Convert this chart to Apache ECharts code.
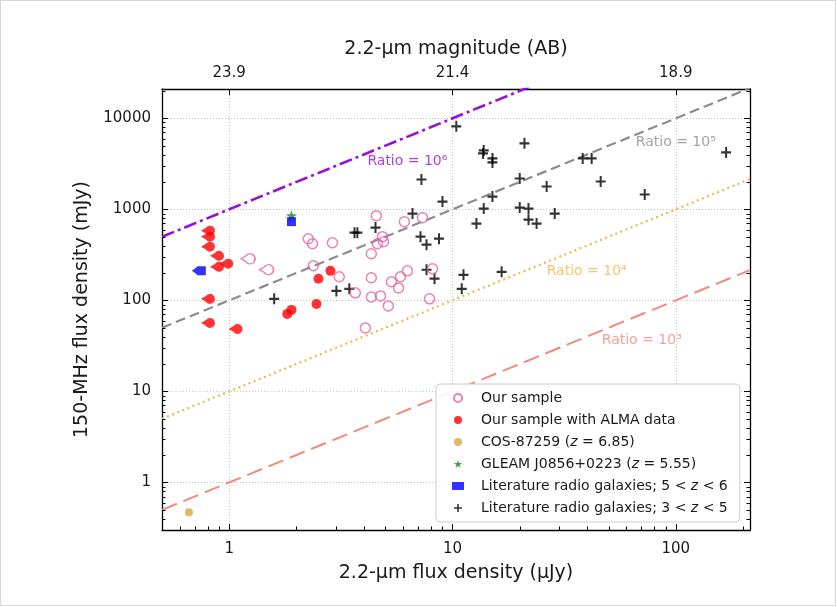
<!DOCTYPE html>
<html><head><meta charset="utf-8">
<script src="https://cdn.jsdelivr.net/npm/echarts@6/dist/echarts.min.js"></script>
<style>html,body{margin:0;padding:0;background:#fff}#c{width:837px;height:607px}</style>
</head><body><div id="c"></div>
<script>
// ---- data (x: 2.2-um flux density in uJy, y: 150-MHz flux density in mJy) ----
const ourSample = [[1.24,286],[1.50,217],[2.26,476],[2.36,419],[2.90,430],[2.38,240],[3.11,182],[4.56,853],[4.33,325],[4.61,419],[4.86,501],[4.91,441],[6.09,733],[7.34,811],[8.14,222],[4.33,177],[5.33,160],[5.85,182],[6.28,211],[5.73,137],[3.67,121],[4.33,109],[4.76,112],[5.16,86.9],[7.89,104],[4.07,49.8]];
const ourSampleLimit = [1,1,0,0,0,0,0,0,0,0,0,0,0,0,0,0,0,0,0,0,0,0,0,0,0,0];
const ourSampleAlma = [[0.82,583],[0.82,501],[0.82,389],[0.90,309],[0.99,253],[0.90,234],[0.82,104],[0.82,56.5],[1.09,48.5],[1.82,71.0],[1.90,78.6],[2.46,91.4],[2.51,173],[2.84,211]];
const ourSampleAlmaLimit = [1,1,1,1,1,1,1,1,1,0,0,0,0,0];
const cos87259 = [[0.66,0.47]];
const gleam = [[1.90,853]];
const litHighZ = [[0.75,211],[1.90,733]];
const litHighZLimit = [1,0];
const litLowZ = [[10.4,8166],[13.8,4437],[13.7,4115],[15.1,3622],[15.1,3274],[21.0,5310],[20.0,2181],[26.4,1782],[38.3,3622],[42.0,3622],[46.1,2022],[72.6,1455],[168,4220],[7.26,2128],[9.02,1217],[15.1,1381],[13.8,1019],[20.0,1045],[21.9,1019],[12.8,697],[21.9,771],[23.8,697],[28.7,898],[11.2,191],[16.6,206],[8.7,476],[6.62,898],[4.52,630],[3.75,554],[3.64,554],[7.19,501],[7.65,409],[7.65,217],[8.31,173],[11.0,134],[3.02,127],[3.45,134],[1.59,104]];

const seriesNames = ['Our sample','Our sample with ALMA data','COS-87259 (z = 6.85)','GLEAM J0856+0223 (z = 5.55)','Literature radio galaxies; 5 < z < 6','Literature radio galaxies; 3 < z < 5'];

// ratio lines S150/S2.2 and their labels
const ratios = [1e3, 1e4, 1e5, 1e6];
const ratioLabels = ['Ratio = 10³','Ratio = 10⁴','Ratio = 10⁵','Ratio = 10⁶'];
const ratioLabelAt = [[70.4,36.7],[39.9,206],[100,5445],[6.28,3360]];

// axes
const xRange = [0.5, 215];
const yRange = [0.3, 21000];
const xMajor = [1, 10, 100];
const xMinor = [0.5,0.6,0.7,0.8,0.9,2,3,4,5,6,7,8,9,20,30,40,50,60,70,80,90,200];
const yMajor = [1, 10, 100, 1000, 10000];
const yMinor = [0.3,0.4,0.5,0.6,0.7,0.8,0.9,2,3,4,5,6,7,8,9,20,30,40,50,60,70,80,90,200,300,400,500,600,700,800,900,2000,3000,4000,5000,6000,7000,8000,9000,20000];
const yTickLabels = ['1','10','100','1000','10000'];
const xTickLabels = ['1','10','100'];
const topTickLabels = ['23.9','21.4','18.9'];

// ---- styling ----
const FONT = 'DejaVu Sans';
const TXT = '#1a1a1a';
const TICK_FS = 15, TITLE_FS = 19, LEG_FS = 14;
const TICK_COLOR = '#000000';
const ratioStyles = [
  {color:'#f4897b', type:[16,7], width:2},
  {color:'#f7b44a', type:[2,3.5], width:2.2},
  {color:'#8c8c8c', type:[10,5], width:2.2},
  {color:'#9a0fd6', type:[13,4,3,4], width:2.6}
];
const plusPath = 'path://M4,0H6V4H10V6H6V10H4V6H0V4H4Z';
const limitPath = 'path://M0,5L4.9,2.13A5,5 0 1 1 4.9,7.87Z';
const limitSquarePath = 'path://M0,5L5,1.5V0.5H14V9.5H5V8.5Z';
const pink = '#e563a3';

function withLimits(points, flags, sym, size, off){
  return points.map((p,i)=> flags[i] ? {value:p, symbol:sym, symbolSize:size, symbolOffset:off} : {value:p});
}
function pickLabel(v, majors, labels){
  const k = majors.findIndex(m=>Math.abs(m-v)/m<1e-6);
  return k>=0 ? labels[k] : '';
}

function axisBase(type, range, extra){
  return Object.assign({
    type:'log', logBase:10, min:range[0], max:range[1],
    axisLine:{show:true, onZero:false, lineStyle:{color:'#000', width:1.3}},
    splitLine:{show:false}, axisLabel:{show:false}, axisTick:{show:false}
  }, extra);
}

// tick marks drawn through the axes' own scales (ticks point inwards)
function tickSeries(values, dir, len, sides){
  return {
    type:'custom', silent:true, z:10, clip:false,
    data: values.map(v => dir==='x' ? [v, 1] : [1, v]),
    renderItem:(params, api)=>{
      const cs = params.coordSys;
      const p = api.coord([api.value(0), api.value(1)]);
      const ch = [];
      const st = {stroke:TICK_COLOR, lineWidth:1};
      if (dir==='x'){
        const x = Math.round(p[0]) + 0.5;
        if (sides.indexOf('b')>=0) ch.push({type:'line', shape:{x1:x, y1:cs.y+cs.height, x2:x, y2:cs.y+cs.height-len}, style:st});
        if (sides.indexOf('t')>=0) ch.push({type:'line', shape:{x1:x, y1:cs.y, x2:x, y2:cs.y+len}, style:st});
      } else {
        const y = Math.round(p[1]) + 0.5;
        if (sides.indexOf('l')>=0) ch.push({type:'line', shape:{x1:cs.x, y1:y, x2:cs.x+len, y2:y}, style:st});
        if (sides.indexOf('r')>=0) ch.push({type:'line', shape:{x1:cs.x+cs.width, y1:y, x2:cs.x+cs.width-len, y2:y}, style:st});
      }
      return {type:'group', children:ch};
    }
  };
}

const lineSeries = ratios.map((r,i)=>({
  type:'line', silent:true, showSymbol:false, symbol:'none', clip:true, z:1,
  data:[[xRange[0], r*xRange[0]/1000],[xRange[1], r*xRange[1]/1000]],
  lineStyle:ratioStyles[i]
}));
const labelSeries = [{
  type:'scatter', silent:true, symbolSize:0, z:3,
  data: ratioLabelAt.map((p,i)=>({value:p, label:{show:true, position:'inside', formatter:ratioLabels[i], color:ratioStyles[i].color, fontSize:14, fontFamily:FONT}}))
}];

const chart = echarts.init(document.getElementById('c'), null, {renderer:'canvas'});
chart.setOption({
  backgroundColor:'#fff',
  animation:false,
  textStyle:{fontFamily:FONT},
  graphic:[{type:'rect', shape:{x:0.5,y:0.5,width:835,height:605}, style:{fill:'none', stroke:'#d6d6d6', lineWidth:1}, silent:true}],
  grid:{left:162, right:87, top:89, bottom:77, containLabel:false},
  xAxis:[
    axisBase('x', xRange, {position:'bottom',
      name:'2.2-µm flux density (µJy)', nameLocation:'middle', nameGap:34,
      nameTextStyle:{fontSize:TITLE_FS, color:TXT, fontFamily:FONT},
      axisLabel:{show:true, customValues:xMajor, fontSize:TICK_FS, color:TXT, margin:12, fontFamily:FONT,
        formatter:(v)=>pickLabel(v, xMajor, xTickLabels)},
      splitLine:{show:true, lineStyle:{type:[1,2], color:'#c4c4c4', width:1}}
    }),
    axisBase('x', xRange, {position:'top',
      name:'2.2-µm magnitude (AB)', nameLocation:'middle', nameGap:30,
      nameTextStyle:{fontSize:TITLE_FS, color:TXT, fontFamily:FONT},
      axisLabel:{show:true, customValues:xMajor, fontSize:TICK_FS, color:TXT, margin:8, fontFamily:FONT,
        formatter:(v)=>pickLabel(v, xMajor, topTickLabels)}
    })
  ],
  yAxis:[
    axisBase('y', yRange, {position:'left',
      name:'150-MHz flux density (mJy)', nameLocation:'middle', nameGap:70,
      nameTextStyle:{fontSize:TITLE_FS, color:TXT, fontFamily:FONT},
      axisLabel:{show:true, customValues:yMajor, fontSize:TICK_FS, color:TXT, margin:11, fontFamily:FONT,
        formatter:(v)=>pickLabel(v, yMajor, yTickLabels)},
      splitLine:{show:true, lineStyle:{type:[1,2], color:'#c4c4c4', width:1}}
    }),
    axisBase('y', yRange, {position:'right'})
  ],
  legend:{
    data:seriesNames, orient:'vertical', left:436, top:384,
    padding:[7,12,7,16], itemWidth:12, itemHeight:8, itemGap:8,
    backgroundColor:'rgba(255,255,255,0.9)', borderColor:'#cccccc', borderWidth:1, borderRadius:4,
    textStyle:{fontFamily:FONT, fontSize:LEG_FS, color:TXT, lineHeight:14, padding:[0,0,0,12],
      rich:{i:{fontStyle:'italic', fontFamily:FONT, fontSize:LEG_FS, color:TXT}}},
    formatter:(n)=>n.replace(/\bz\b/g,'{i|z}')
  },
  series:[
    ...lineSeries,
    {name:seriesNames[5], type:'scatter', data:litLowZ, symbol:plusPath, symbolSize:[10,11], z:4,
      itemStyle:{color:'#000'}},
    {name:seriesNames[0], type:'scatter', data:withLimits(ourSample, ourSampleLimit, limitPath, [14,10], [-2,0]), symbol:'circle', symbolSize:10, z:5,
      itemStyle:{color:'rgba(255,255,255,0)', borderColor:pink, borderWidth:1.5}},
    {name:seriesNames[1], type:'scatter', data:withLimits(ourSampleAlma, ourSampleAlmaLimit, limitPath, [14,10], [-2,0]), symbol:'circle', symbolSize:10, z:6,
      itemStyle:{color:'#ff0000'}},
    {name:seriesNames[2], type:'scatter', data:cos87259, symbol:'circle', symbolSize:8, z:6,
      itemStyle:{color:'#d8a63a'}},
    {name:seriesNames[3], type:'scatter', data:gleam, symbol:'path://M50,0L61.8,36.2L100,36.2L69.1,58.8L80.9,95.1L50,72.7L19.1,95.1L30.9,58.8L0,36.2L38.2,36.2Z', symbolSize:11, z:6,
      itemStyle:{color:'#1a8a1a'}},
    {name:seriesNames[4], type:'scatter', data:withLimits(litHighZ, litHighZLimit, limitSquarePath, [14,9], [-2.5,0]), symbol:'rect', symbolSize:9, z:7,
      itemStyle:{color:'#0000ff'}},
    ...labelSeries,
    tickSeries(xMajor, 'x', 6, 'bt'),
    tickSeries(xMinor, 'x', 3.5, 'b'),
    tickSeries(yMajor, 'y', 6, 'lr'),
    tickSeries(yMinor, 'y', 3.5, 'lr')
  ]
});
</script></body></html>
